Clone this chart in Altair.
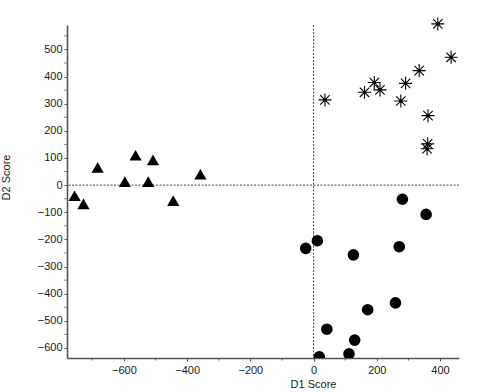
import altair as alt
import pandas as pd

# Triangles (group 1)
tri_x = [-683, -563, -508, -597, -523, -358, -756, -728, -444]
tri_y = [65, 110, 93, 13, 13, 40, -39, -69, -57]

# Asterisks (group 2)
ast_x = [393, 435, 334, 291, 192, 210, 161, 276, 36, 362, 361, 359]
ast_y = [594, 471, 422, 375, 378, 351, 342, 310, 314, 256, 152, 134]

# Circles (group 3)
cir_x = [281, 356, 12, -25, 126, 271, 259, 171, 42, 130, 112, 18]
cir_y = [-52, -108, -205, -233, -257, -227, -434, -459, -531, -571, -622, -633]

x_major = [-600, -400, -200, 0, 200, 400]
x_minor = [-700, -500, -300, -100, 100, 300]
y_major = [-600, -500, -400, -300, -200, -100, 0, 100, 200, 300, 400, 500]
y_minor = [-550, -450, -350, -250, -150, -50, 50, 150, 250, 350, 450, 550]

tri = pd.DataFrame({"d1": tri_x, "d2": tri_y})
ast = pd.DataFrame({"d1": ast_x, "d2": ast_y})
cir = pd.DataFrame({"d1": cir_x, "d2": cir_y})

W, H = 392, 333
xs = alt.Scale(domain=[-780, 460], nice=False, zero=False)
ys = alt.Scale(domain=[-637, 590], nice=False, zero=False)

FONT = "Liberation Sans"

x_axis = alt.Axis(
    values=x_major, tickSize=3, labelOverlap=False,
    grid=False, domainColor="#555", domainWidth=1.6, tickColor="#555",
    labelFont=FONT, labelFontSize=11, labelColor="#1a1a1a", labelPadding=3,
    title="D1 Score", titleFont=FONT, titleFontSize=11, titleFontWeight="normal",
    titleColor="#1a1a1a", titleX=246, titleY=20, titleAnchor="middle",
)
y_axis = alt.Axis(
    values=y_major, tickSize=3, labelOverlap=False,
    grid=False, domainColor="#555", domainWidth=1.6, tickColor="#555",
    labelFont=FONT, labelFontSize=11, labelColor="#1a1a1a", labelPadding=2,
    title="D2 Score", titleFont=FONT, titleFontSize=11, titleFontWeight="normal",
    titleColor="#1a1a1a", titleX=-56, titleY=152, titleAngle=270, titleAnchor="middle",
)


def X(field):
    return alt.X(field, scale=xs, axis=x_axis)


def Y(field):
    return alt.Y(field, scale=ys, axis=y_axis)


hline = alt.Chart(pd.DataFrame({"v": [0]})).mark_rule(
    color="#444", strokeDash=[2, 1.5], strokeWidth=1
).encode(y=Y("v:Q"))
vline = alt.Chart(pd.DataFrame({"v": [0]})).mark_rule(
    color="#444", strokeDash=[2, 1.5], strokeWidth=1
).encode(x=X("v:Q"))

x_minor_ticks = alt.Chart(pd.DataFrame({"v": x_minor})).mark_rule(
    color="#555", strokeWidth=1
).encode(x=X("v:Q"), y=alt.value(H + 0.5), y2=alt.value(H + 2.5))
y_minor_ticks = alt.Chart(pd.DataFrame({"v": y_minor})).mark_rule(
    color="#555", strokeWidth=1
).encode(y=Y("v:Q"), x=alt.value(-2.5), x2=alt.value(-0.5))

tri_layer = alt.Chart(tri).mark_point(
    shape="triangle-up", filled=True, color="black", size=150, opacity=1
).encode(x=X("d1:Q"), y=Y("d2:Q"))

cir_layer = alt.Chart(cir).mark_point(
    shape="circle", filled=True, color="black", size=135, opacity=1, clip=True
).encode(x=X("d1:Q"), y=Y("d2:Q"))

star_path = "M-1,0L1,0M0,-1L0,1M-0.72,-0.72L0.72,0.72M-0.72,0.72L0.72,-0.72"
ast_layer = alt.Chart(ast).mark_point(
    shape=star_path, filled=False, color="black", strokeWidth=1.1, size=170, opacity=1
).encode(x=X("d1:Q"), y=Y("d2:Q"))
ast_dot = alt.Chart(ast).mark_point(
    shape="circle", filled=True, color="black", size=10, opacity=1
).encode(x=X("d1:Q"), y=Y("d2:Q"))

chart = alt.layer(
    hline, vline, x_minor_ticks, y_minor_ticks, tri_layer, cir_layer, ast_layer, ast_dot
).properties(
    width=W, height=H,
    autosize=alt.AutoSizeParams(type="none"),
    padding={"left": 67, "top": 25, "right": 38, "bottom": 34},
    background="white",
).configure_view(stroke=None)

chart.save("out.html", embed_options={"renderer": "svg", "actions": False})
